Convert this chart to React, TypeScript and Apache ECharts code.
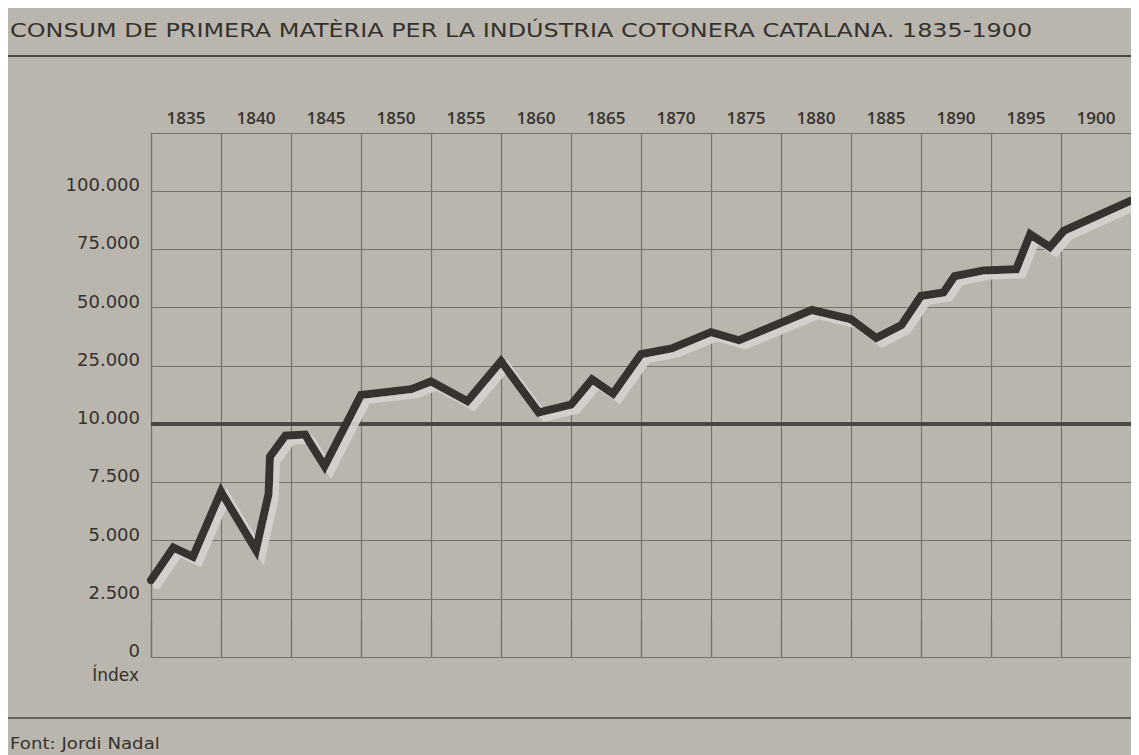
import React, { useEffect, useRef } from "react";
import * as echarts from "echarts";

// Column labels (5-year periods) shown along the top
const periodLabels = ["1835", "1840", "1845", "1850", "1855", "1860", "1865", "1870", "1875", "1880", "1885", "1890", "1895", "1900"];

// Tick values of the broken (piecewise) index scale, bottom to top
const tickValues = [0, 2500, 5000, 7500, 10000, 25000, 50000, 75000, 100000];
const tickLabels = ["0", "2.500", "5.000", "7.500", "10.000", "25.000", "50.000", "75.000", "100.000"];

// Consumption index
const years = [1835, 1836.6, 1838, 1840, 1842.5, 1843.4, 1843.5, 1844.6, 1846, 1847.4, 1850, 1853.6, 1855, 1857.6, 1860, 1862.7, 1865, 1866.5, 1868, 1870, 1872.2, 1875, 1877, 1882.2, 1885, 1886.8, 1888.6, 1890, 1891.6, 1892.4, 1894.5, 1896.8, 1897.8, 1899.2, 1900.2, 1905];
const values = [3300, 4700, 4300, 7100, 4600, 7000, 8600, 9500, 9550, 8200, 17500, 19000, 21000, 15900, 27000, 13000, 15000, 21500, 17800, 30000, 32500, 39500, 36000, 49000, 45000, 37000, 42500, 55000, 56500, 63500, 66000, 66500, 81500, 76000, 83000, 96000];

const breakValue = 10000;

const titleText = "CONSUM DE PRIMERA MATÈRIA PER LA INDÚSTRIA COTONERA CATALANA. 1835-1900";
const sourceText = "Font: Jordi Nadal";
const unitText = "Índex";

// map a real value onto the equally spaced tick positions of the broken scale
function toPos(v: number): number {
  for (let i = 1; i < tickValues.length; i++) {
    if (v <= tickValues[i]) {
      const a = tickValues[i - 1];
      const b = tickValues[i];
      return i - 1 + (v - a) / (b - a);
    }
  }
  const n = tickValues.length - 1;
  return n + (v - tickValues[n]) / (tickValues[n] - tickValues[n - 1]);
}

const TEXT = "#35322e";
const GRID = "#77726b";
const LINE = "#37332f";
const BG = "#bab6ae";
const FONT = "'DejaVu Sans', 'Open Sans', sans-serif";
const YEARFONT = "'Open Sans', 'Noto Sans', sans-serif";

function measure(text: string, font: string): number {
  const c = document.createElement("canvas").getContext("2d");
  if (!c) return 0;
  c.font = font;
  return c.measureText(text).width;
}

export default function App() {
  const ref = useRef<HTMLDivElement>(null);
  useEffect(() => {
    if (!ref.current) return;
    const chart = echarts.init(ref.current, null, { renderer: "svg" });
    const W = 1131;
    const titleFont = "20px 'DejaVu Sans'";
    const srcFont = "16px 'DejaVu Sans'";
    const tw = measure(titleText, titleFont) || 900;
    const sw = measure(sourceText, srcFont) || 140;
    const titleScale = 1023 / tw;
    const srcScale = 150 / sw;
    chart.setOption({
      animation: false,
      backgroundColor: BG,
      grid: { left: 143, right: 8, top: 125, bottom: 98, containLabel: false },
      xAxis: [
        {
          type: "category",
          position: "top",
          data: periodLabels,
          boundaryGap: true,
          axisLine: { show: true, lineStyle: { color: GRID, width: 1.2 } },
          axisTick: { show: true, length: 37, inside: false, lineStyle: { color: GRID, width: 1.2 } },
          axisLabel: { show: true, margin: 7, color: TEXT, fontFamily: YEARFONT, fontSize: 17, fontWeight: 600 },
          splitLine: { show: true, lineStyle: { color: GRID, width: 1.2 } },
        },
        {
          type: "value",
          position: "bottom",
          min: 1835,
          max: 1905,
          show: false,
          splitLine: { show: false },
        },
      ],
      yAxis: {
        type: "value",
        min: 0,
        max: 9,
        interval: 1,
        axisLine: { show: true, lineStyle: { color: GRID, width: 1.2 } },
        axisTick: { show: false },
        axisLabel: {
          margin: 11,
          color: TEXT,
          fontFamily: FONT,
          fontSize: 18,
          verticalAlign: "bottom",
          lineHeight: 13,
          formatter: (v: number) => (tickLabels[Math.round(v)] !== undefined ? tickLabels[Math.round(v)] : ""),
        },
        splitLine: { show: true, lineStyle: { color: GRID, width: 1.2 } },
      },
      series: [
        {
          type: "line",
          xAxisIndex: 1,
          data: years.map((y, i) => [y, toPos(values[i])]),
          showSymbol: false,
          symbol: "none",
          lineStyle: {
            color: LINE,
            width: 8,
            cap: "round",
            join: "miter",
            shadowColor: "rgba(214,211,206,0.9)",
            shadowOffsetX: 6,
            shadowOffsetY: 5,
            shadowBlur: 0,
          },
          markLine: {
            silent: true,
            symbol: "none",
            label: { show: false },
            lineStyle: { color: "#4a4641", width: 4, type: "solid" },
            data: [{ yAxis: toPos(breakValue) }],
            z: 1,
          },
          z: 5,
        },
      ],
      graphic: [
        {
          type: "text",
          x: 2,
          y: 22,
          scaleX: titleScale,
          style: {
            text: titleText,
            fill: TEXT,
            font: titleFont,
            textVerticalAlign: "middle",
          },
        },
        {
          type: "line",
          shape: { x1: 0, y1: 48, x2: W, y2: 48 },
          style: { stroke: "#4a4641", lineWidth: 2 },
        },
        {
          type: "text",
          x: 131,
          y: 667,
          style: { text: unitText, fill: TEXT, font: `17px ${FONT}`, textAlign: "right", textVerticalAlign: "middle" },
        },
        {
          type: "line",
          shape: { x1: 0, y1: 710, x2: W, y2: 710 },
          style: { stroke: "#4a4641", lineWidth: 1.5 },
        },
        {
          type: "text",
          x: 2,
          y: 735,
          scaleX: srcScale,
          style: { text: sourceText, fill: TEXT, font: srcFont, textVerticalAlign: "middle" },
        },
      ],
    });
    return () => chart.dispose();
  }, []);
  return <div ref={ref} style={{ width: 1131, height: 747 }} />;
}
